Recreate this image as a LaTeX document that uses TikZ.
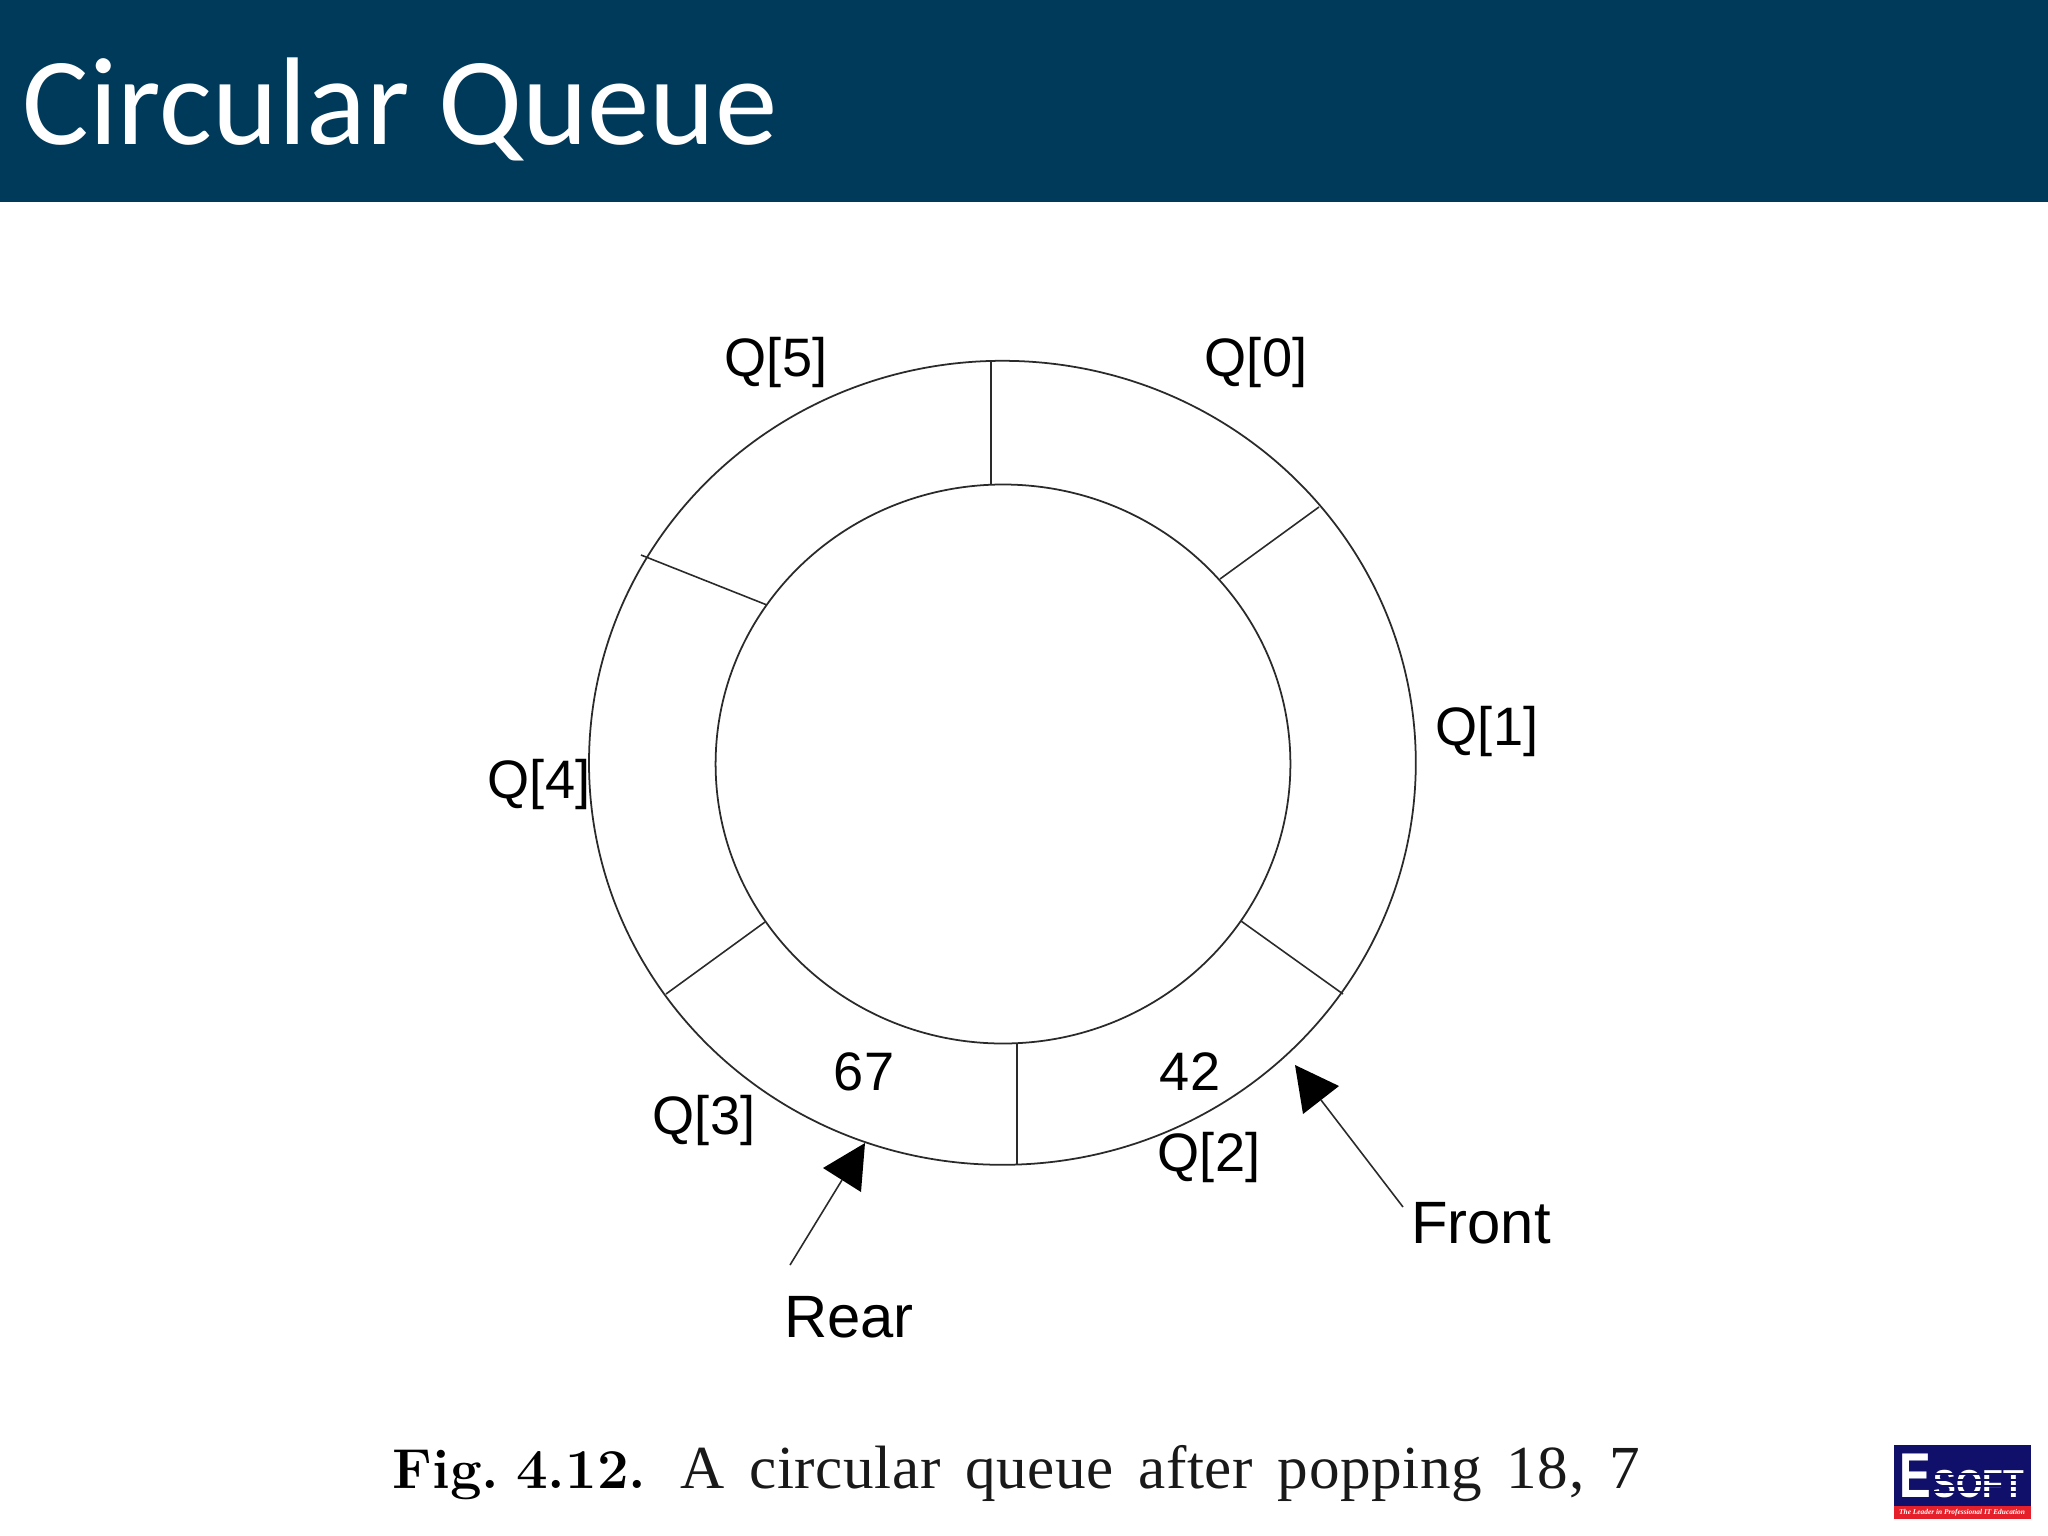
\documentclass[tikz,border=0pt]{standalone}
\usepackage{fontspec}
\setmainfont{Latin Modern Roman}
\newfontfamily\titlefont{Carlito}
\newfontfamily\labelfont{Liberation Sans}
\newfontfamily\logofont{Liberation Sans}
\newfontfamily\logotag{Liberation Serif}
\newfontfamily\capfont[WordSpace=1.55,LetterSpace=1]{Liberation Serif}
\definecolor{headerblue}{HTML}{003A5A}
\definecolor{lineink}{HTML}{2A2A2A}
\definecolor{logoblue}{HTML}{10106A}
\definecolor{logored}{HTML}{E5202A}
\tikzset{
  ring/.style={draw=lineink,line width=0.5pt},
  spoke/.style={draw=lineink,line width=0.45pt},
  lab/.style={font=\labelfont\fontsize{15.4pt}{16pt}\selectfont,text=black,inner sep=0pt,anchor=center},
  pointer/.style={draw=lineink,line width=0.45pt},
  pointerhead/.style={fill=black,draw=none},
  captext/.style={anchor=base west,inner sep=0pt,text=black!90},
  logotext/.style={anchor=base west,inner sep=0pt,text=white,transform shape},
}
\begin{document}
\begin{tikzpicture}[x=0.01cm,y=-0.01cm]
\useasboundingbox (0,0) rectangle (2048,1536);
\fill[white] (0,0) rectangle (2048,1536);
\fill[headerblue] (0,0) rectangle (2048,202);
\node[anchor=base west,inner sep=0pt,text=white,font=\titlefont\fontsize{35.5pt}{38pt}\selectfont] (title) at (22,144) {Circular Queue};

% rings
\draw[ring] (1002.4,762.8) ellipse [x radius=413.4,y radius=402];
\draw[ring] (1003,764) ellipse [x radius=287.4,y radius=279.5];

% spokes
\coordinate (s0a) at (991,361); \coordinate (s0b) at (991,484);
\coordinate (s1a) at (1319,507); \coordinate (s1b) at (1220,579);
\coordinate (s2a) at (1343,994); \coordinate (s2b) at (1241,921);
\coordinate (s3a) at (1017,1044); \coordinate (s3b) at (1017,1165);
\coordinate (s4a) at (765,922); \coordinate (s4b) at (666,994);
\coordinate (s5a) at (641,555); \coordinate (s5b) at (767,605);
\foreach \i in {0,...,5} \draw[spoke] (s\i a) -- (s\i b);

% labels
\node[lab] (q5) at (776,362) {Q[5]};
\node[lab] (q0) at (1256,362) {Q[0]};
\node[lab] (q1) at (1487,731) {Q[1]};
\node[lab] (q4) at (539,784) {Q[4]};
\node[lab] (q3) at (704,1120) {Q[3]};
\node[lab] (q2) at (1209,1157) {Q[2]};
\node[lab] (v67) at (864,1072) {67};
\node[lab] (v42) at (1190,1072) {42};
\node[lab,font=\labelfont\fontsize{17pt}{18pt}\selectfont] (front) at (1481,1223) {Front};
\node[lab,font=\labelfont\fontsize{17pt}{18pt}\selectfont] (rear) at (849,1317) {Rear};

% pointers
\coordinate (rtip) at (865,1143);
\coordinate (rl) at (823,1168);
\coordinate (rr) at (861,1192);
\coordinate (rbase) at (842,1180);
\coordinate (rend) at (790,1265);
\draw[pointer] (rend) -- (rbase);
\fill[pointerhead] (rtip) -- (rl) -- (rr) -- cycle;
\coordinate (ftip) at (1295,1065);
\coordinate (fl) at (1303,1114);
\coordinate (fr) at (1339,1086);
\coordinate (fbase) at (1321,1100);
\coordinate (fend) at (1403,1207);
\draw[pointer] (fend) -- (fbase);
\fill[pointerhead] (ftip) -- (fl) -- (fr) -- cycle;

% caption
\node[captext,text=black,font=\fontsize{16pt}{19pt}\selectfont\bfseries] (cap) at (392,1488) {Fig.\hspace{0.3em}4.12.};
\node[captext,font=\capfont\fontsize{17.4pt}{19pt}\selectfont] (capb) at (680,1488)
  {A circular queue after popping 18, 7};

% logo
\fill[logoblue] (1894,1445) rectangle (2031,1506);
\fill[logored] (1894,1506) rectangle (2031,1519);
\node[logotext,xscale=0.75,font=\logofont\bfseries\fontsize{18pt}{19pt}\selectfont] (logoe) at (1899,1497) {E};
\node[logotext,xscale=0.87,font=\logofont\bfseries\fontsize{11.1pt}{12pt}\selectfont] (logosoft) at (1933,1497) {SOFT};
\foreach \yy in {1474,1480,1486,1492} \draw[logoblue,line width=0.35pt] (1933,\yy) -- (2027,\yy);
\node[anchor=center,inner sep=0pt,text=white,font=\logotag\itshape\bfseries\fontsize{2.1pt}{3pt}\selectfont] (logotag) at (1962,1513) {The Leader in Professional IT Education};
\end{tikzpicture}
\end{document}
